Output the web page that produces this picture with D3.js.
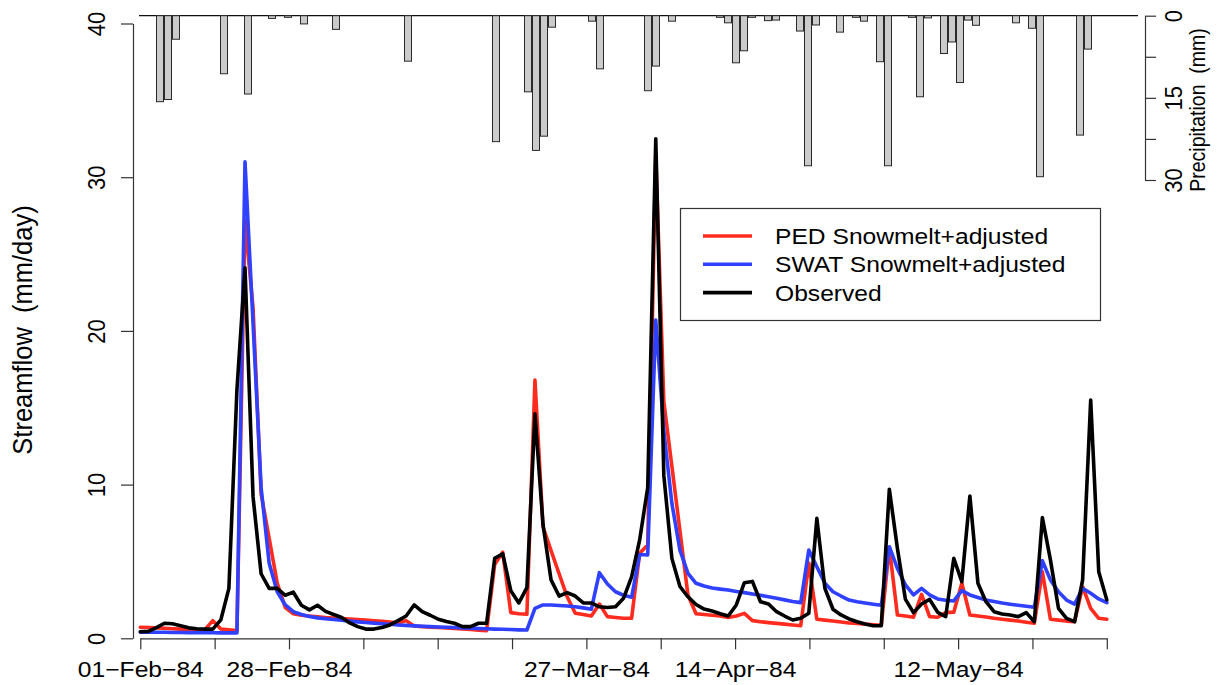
<!DOCTYPE html>
<html>
<head>
<meta charset="utf-8">
<script src="https://cdn.jsdelivr.net/npm/d3@7"></script>
<style>
  html, body { margin: 0; padding: 0; background: #ffffff; }
  svg { display: block; }
  text { font-family: "Liberation Sans", Arial, Helvetica, sans-serif; fill: #000; }
</style>
</head>
<body>
<svg id="chart" width="1225" height="685"></svg>
<script>
// Daily streamflow (mm/day), 01-Feb-84 .. 31-May-84
const observed = [
  0.43, 0.45, 0.7, 0.98, 0.95, 0.82, 0.68, 0.62, 0.6, 0.6,
  1.2, 3.25, 16.2, 24.1, 9.2, 4.2, 3.25, 3.25, 2.8, 3.0,
  2.15, 1.85, 2.15, 1.75, 1.55, 1.35, 1.0, 0.76, 0.6, 0.6,
  0.7, 0.87, 1.15, 1.45, 2.17, 1.73, 1.5, 1.24, 1.1, 0.98,
  0.76, 0.76, 0.98, 0.98, 5.2, 5.5, 3.1, 2.3, 3.3, 14.6,
  7.4, 3.8, 2.75, 2.97, 2.75, 2.3, 2.3, 2.05, 2.0, 2.05,
  2.6, 4.0, 6.4, 9.8, 32.5, 10.6, 5.2, 3.37, 2.7, 2.2,
  1.9, 1.78, 1.6, 1.45, 2.17, 3.62, 3.7, 2.38, 2.23, 1.73,
  1.45, 1.19, 1.3, 1.63, 7.8, 3.25, 1.89, 1.52, 1.26, 1.08,
  0.93, 0.82, 0.82, 9.7, 5.86, 2.53, 1.67, 2.23, 2.53, 1.69,
  1.41, 5.2, 3.68, 9.26, 3.58, 2.38, 1.73, 1.58, 1.52, 1.41,
  1.67, 1.08, 7.85, 5.1, 1.95, 1.3, 1.08, 3.8, 15.5, 4.33,
  2.5
];

const pedSnowmelt = [
  0.72, 0.7, 0.68, 0.65, 0.62, 0.6, 0.58, 0.56, 0.55, 1.15,
  0.6, 0.55, 0.5, 27.2, 21.5, 9.4, 6.5, 3.6, 2.0, 1.6,
  1.5, 1.45, 1.4, 1.35, 1.32, 1.28, 1.25, 1.22, 1.18, 1.14,
  1.1, 1.05, 1.0, 1.15, 0.8, 0.76, 0.73, 0.7, 0.67, 0.64,
  0.6, 0.57, 0.53, 0.5, 4.8, 5.6, 1.67, 1.6, 1.56, 16.8,
  7.26, 5.7, 4.2, 2.7, 1.63, 1.55, 1.45, 2.23, 1.41, 1.35,
  1.3, 1.3, 5.53, 6.07, 31.5, 15.4, 11.2, 7.0, 2.8, 1.6,
  1.55, 1.5, 1.45, 1.35, 1.45, 1.62, 1.15, 1.08, 1.02, 0.97,
  0.92, 0.87, 0.82, 4.9, 1.24, 1.18, 1.12, 1.06, 1.0, 0.96,
  0.92, 0.88, 0.85, 5.9, 1.52, 1.45, 1.37, 2.86, 1.41, 1.37,
  1.67, 1.7, 3.58, 1.52, 1.45, 1.38, 1.3, 1.24, 1.18, 1.12,
  1.05, 0.98, 4.33, 1.24, 1.18, 1.12, 1.08, 3.36, 1.95, 1.3,
  1.24
];

const swatSnowmelt = [
  0.4, 0.4, 0.39, 0.39, 0.38, 0.38, 0.37, 0.37, 0.36, 0.36,
  0.35, 0.35, 0.35, 31.0, 20.5, 9.8, 4.88, 3.03, 2.17, 1.73,
  1.55, 1.42, 1.33, 1.27, 1.22, 1.17, 1.12, 1.07, 1.03, 0.99,
  0.95, 0.91, 0.87, 0.84, 0.81, 0.78, 0.76, 0.74, 0.72, 0.7,
  0.68, 0.66, 0.64, 0.62, 0.6, 0.59, 0.57, 0.55, 0.54, 1.95,
  2.17, 2.17, 2.13, 2.1, 2.05, 1.98, 1.89, 4.27, 3.53, 3.03,
  2.8, 2.67, 5.45, 5.42, 20.7, 13.5, 8.78, 5.74, 4.23, 3.58,
  3.4, 3.27, 3.2, 3.14, 3.05, 2.97, 2.88, 2.8, 2.7, 2.6,
  2.5, 2.4, 2.32, 5.74, 4.66, 3.58, 3.03, 2.75, 2.49, 2.38,
  2.3, 2.22, 2.15, 5.96, 4.55, 3.47, 2.82, 3.25, 2.82, 2.56,
  2.48, 2.43, 3.1, 2.82, 2.65, 2.49, 2.4, 2.3, 2.22, 2.15,
  2.08, 2.02, 5.05, 3.8, 3.03, 2.49, 2.23, 3.25, 2.93, 2.56,
  2.32
];

// Daily precipitation (mm)
const precipitation = [
  0, 0, 15.7, 15.3, 4.3, 0, 0, 0, 0, 0,
  10.6, 0, 0, 14.3, 0, 0, 0.5, 0, 0.3, 0,
  1.5, 0, 0, 0, 2.5, 0, 0, 0, 0, 0,
  0, 0, 0, 8.3, 0, 0, 0, 0, 0, 0,
  0, 0, 0, 0, 23.0, 0, 0, 0, 13.9, 24.6,
  22.0, 2.1, 0, 0, 0, 0, 1.0, 9.7, 0, 0,
  0, 0, 0, 13.7, 9.2, 0, 1.0, 0, 0, 0,
  0, 0, 0.3, 1.3, 8.6, 6.4, 0.3, 0, 0.9, 0.8,
  0, 0, 2.8, 27.4, 1.7, 0, 0, 3.0, 0, 0.3,
  1.0, 0, 8.4, 27.4, 0, 0, 0.3, 14.8, 0.4, 0,
  6.9, 4.8, 12.2, 0.8, 1.75, 0, 0, 0, 0, 1.3,
  0, 2.3, 29.4, 0, 0, 0, 0, 21.8, 6.1, 0,
  0
];

const xTickLabels = [
  "01\u2212Feb\u221284", "", "28\u2212Feb\u221284", "", "", "",
  "27\u2212Mar\u221284", "", "14\u2212Apr\u221284", "", "",
  "12\u2212May\u221284", "", ""
];
const flowTicks = [0, 10, 20, 30, 40];
const precipTicks = [0, 7.5, 15, 22.5, 30];
const precipTickLabels = ["0", "", "15", "", "30"];
const seriesNames = ["PED Snowmelt+adjusted", "SWAT Snowmelt+adjusted", "Observed"];
const seriesColors = ["#ff2b1f", "#2f40ff", "#000000"];

// ---- drawing ----
const STRETCH = 1.12;           // glyph width factor
const AXIS_COLOR = "#333";
const svg = d3.select("#chart");

const days = d3.range(observed.length);
const x = d3.scaleLinear().domain([0, days.length - 1]).range([140.3, 1106.8]);
const y = d3.scaleLinear().domain([0, 40]).range([638.3, 23.5]);
const xBar = d3.scaleBand().domain(days).range([140, 1108])
  .paddingInner(0.125).paddingOuter(0.0625);
const yP = d3.scaleLinear().domain([0, 30]).range([15.7, 180]);

// precipitation bars hanging from the top
svg.append("line")
  .attr("x1", 139).attr("x2", 1138)
  .attr("y1", yP(0)).attr("y2", yP(0))
  .attr("stroke", "#111").attr("stroke-width", 1.2);

svg.append("g").selectAll("rect")
  .data(days.filter(d => precipitation[d] > 0))
  .join("rect")
  .attr("x", d => xBar(d))
  .attr("y", yP(0))
  .attr("width", xBar.bandwidth())
  .attr("height", d => yP(precipitation[d]) - yP(0))
  .attr("fill", "#cbcbcb")
  .attr("stroke", "#2a2a2a")
  .attr("stroke-width", 1);

// right axis (precipitation)
const rAxis = svg.append("g")
  .attr("transform", "translate(1145,0)")
  .call(d3.axisRight(yP).tickValues(precipTicks).tickSize(11).tickSizeOuter(0).tickFormat(() => ""));
rAxis.selectAll("path, line").attr("stroke", AXIS_COLOR).attr("stroke-width", 1.2);
rAxis.selectAll(".tick text").remove();
rAxis.selectAll(".tick").append("text")
  .attr("transform", `translate(37,0) scale(${STRETCH},1) rotate(-90)`)
  .attr("text-anchor", "middle")
  .attr("font-size", 22)
  .text((d, i) => precipTickLabels[i]);

svg.append("text")
  .attr("transform", `translate(1205,110) scale(${STRETCH},1) rotate(-90)`)
  .attr("text-anchor", "middle")
  .attr("font-size", 19.5)
  .attr("xml:space", "preserve")
  .text("Precipitation  (mm)");

// streamflow series
const line = d3.line().x((d, i) => x(i)).y(d => y(d));
[pedSnowmelt, swatSnowmelt, observed].forEach((s, k) => {
  svg.append("path")
    .datum(s)
    .attr("d", line)
    .attr("fill", "none")
    .attr("stroke", seriesColors[k])
    .attr("stroke-width", 3.6)
    .attr("stroke-linejoin", "round")
    .attr("stroke-linecap", "round");
});

// bottom axis
const xAxis = svg.append("g")
  .attr("transform", `translate(0,${y(0)})`)
  .call(d3.axisBottom(x)
    .tickValues(d3.range(14).map(k => k * (days.length - 1) / 13))
    .tickSize(11).tickSizeOuter(0)
    .tickFormat((d, i) => xTickLabels[i]));
xAxis.selectAll("path, line").attr("stroke", AXIS_COLOR).attr("stroke-width", 1.2);
xAxis.selectAll(".tick text")
  .attr("font-size", 22)
  .attr("fill", "#000")
  .attr("y", 0).attr("dy", null)
  .attr("transform", `translate(0,39) scale(${STRETCH},1)`);

// left axis
const yAxis = svg.append("g")
  .attr("transform", "translate(133,0)")
  .call(d3.axisLeft(y).tickValues(flowTicks).tickSize(12).tickSizeOuter(0));
yAxis.selectAll("path, line").attr("stroke", AXIS_COLOR).attr("stroke-width", 1.2);
yAxis.selectAll(".tick text")
  .attr("font-size", 22)
  .attr("fill", "#000")
  .attr("x", 0).attr("dy", null)
  .attr("text-anchor", "middle")
  .attr("transform", `translate(-28,0) scale(${STRETCH},1) rotate(-90)`);

svg.append("text")
  .attr("transform", `translate(32,330) scale(${STRETCH},1) rotate(-90)`)
  .attr("text-anchor", "middle")
  .attr("font-size", 25.5)
  .attr("xml:space", "preserve")
  .text("Streamflow  (mm/day)");

// legend
const legend = svg.append("g");
legend.append("rect")
  .attr("x", 680.5).attr("y", 208.5)
  .attr("width", 420).attr("height", 112)
  .attr("fill", "#fff").attr("stroke", AXIS_COLOR).attr("stroke-width", 1.2);
const rows = legend.selectAll("g.row")
  .data(seriesNames)
  .join("g")
  .attr("class", "row")
  .attr("transform", (d, i) => `translate(0,${236 + i * 28.3})`);
rows.append("line")
  .attr("x1", 703).attr("x2", 752)
  .attr("stroke", (d, i) => seriesColors[i])
  .attr("stroke-width", 3.6);
rows.append("text")
  .attr("transform", `translate(775,8) scale(${STRETCH},1)`)
  .attr("font-size", 22)
  .text(d => d);
</script>
</body>
</html>
